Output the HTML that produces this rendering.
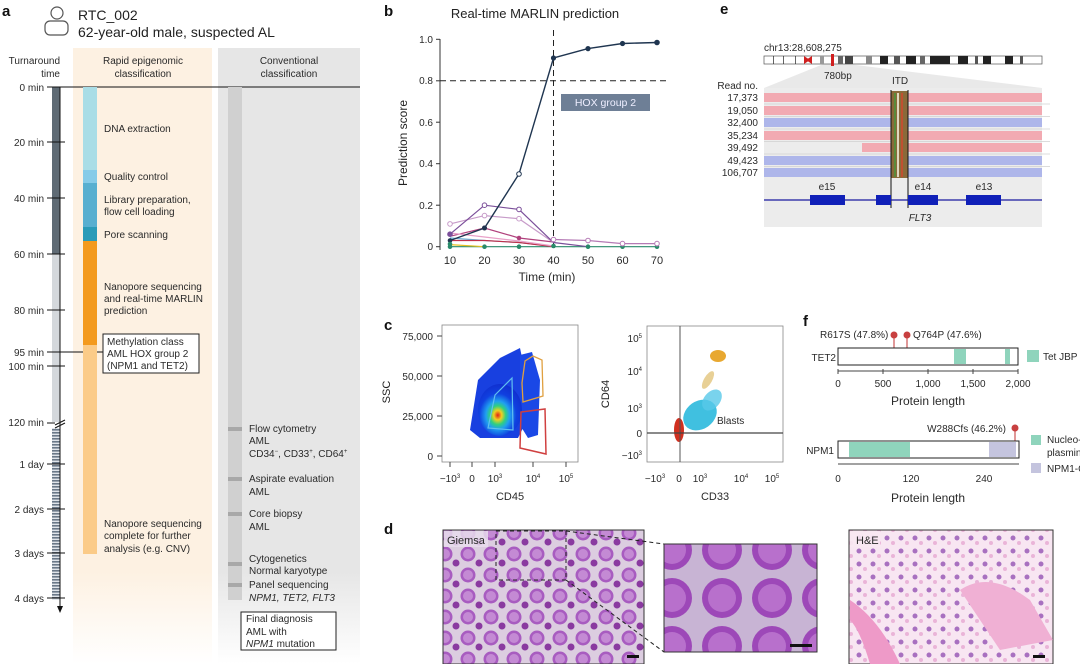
<!DOCTYPE html>
<html><head><meta charset="utf-8"><style>
html,body{margin:0;padding:0;background:#fff;}
svg{display:block;font-family:"Liberation Sans",Arial,sans-serif;}
.t{font-size:11px;fill:#2a2a2a;}
.s{font-size:10px;fill:#2a2a2a;}
.b{font-size:15px;font-weight:bold;fill:#111;}
</style></head><body>
<svg width="1080" height="664" viewBox="0 0 1080 664" xmlns="http://www.w3.org/2000/svg">
<defs>
<linearGradient id="fo" x1="0" y1="0" x2="0" y2="1"><stop offset="0.85" stop-color="#fdf1e2"/><stop offset="1" stop-color="#fff"/></linearGradient>
<linearGradient id="fg" x1="0" y1="0" x2="0" y2="1"><stop offset="0.85" stop-color="#e6e6e6"/><stop offset="1" stop-color="#fff"/></linearGradient>
<pattern id="lad" width="8" height="3" patternUnits="userSpaceOnUse"><rect width="8" height="3" fill="#e0e4ea"/><rect width="8" height="1.6" fill="#6a7888"/></pattern>
<radialGradient id="flow1" cx="0.45" cy="0.6" r="0.6"><stop offset="0" stop-color="#e0201a"/><stop offset="0.15" stop-color="#f0d020"/><stop offset="0.3" stop-color="#30d080"/><stop offset="0.45" stop-color="#20a0f0"/><stop offset="0.7" stop-color="#1040e0"/><stop offset="1" stop-color="#1030d0"/></radialGradient>
<pattern id="giem" width="23" height="21" patternUnits="userSpaceOnUse"><rect width="23" height="21" fill="#dccde0"/><circle cx="8" cy="8" r="7.5" fill="#a85cc0"/><circle cx="8" cy="8" r="5" fill="#c48ad4"/><circle cx="19" cy="17" r="3.5" fill="#8a3aa0"/></pattern>
<pattern id="giem2" width="50" height="48" patternUnits="userSpaceOnUse"><rect width="50" height="48" fill="#c8b4d4"/><circle cx="22" cy="22" r="20" fill="#9d48b8"/><circle cx="22" cy="22" r="14" fill="#b870cc"/></pattern>
<pattern id="he" width="14" height="13" patternUnits="userSpaceOnUse"><rect width="14" height="13" fill="#f8e6f2"/><circle cx="5" cy="5" r="2.5" fill="#a870c0"/><circle cx="11" cy="10" r="2" fill="#eab4d8"/></pattern>
</defs>

<!-- ===== Panel a ===== -->
<text x="2" y="16" class="b">a</text>
<circle cx="57" cy="13" r="6" fill="none" stroke="#555" stroke-width="1.2"/>
<rect x="45" y="21" width="23" height="14" rx="5" fill="none" stroke="#555" stroke-width="1.2"/>
<text x="78" y="20" style="font-size:14px;fill:#222">RTC_002</text>
<text x="78" y="37" style="font-size:14px;fill:#222">62-year-old male, suspected AL</text>

<rect x="73" y="48" width="139" height="616" fill="url(#fo)"/>
<rect x="218" y="48" width="142" height="616" fill="url(#fg)"/>
<text x="60" y="64" class="s" text-anchor="end">Turnaround</text>
<text x="60" y="77" class="s" text-anchor="end">time</text>
<text x="143" y="64" class="s" text-anchor="middle">Rapid epigenomic</text>
<text x="143" y="77" class="s" text-anchor="middle">classification</text>
<text x="289" y="64" class="s" text-anchor="middle">Conventional</text>
<text x="289" y="77" class="s" text-anchor="middle">classification</text>

<rect x="52" y="87" width="8" height="167" fill="#5f6b75"/>
<rect x="52" y="254" width="8" height="168" fill="#d4d8dc"/>
<rect x="52" y="428" width="8" height="172" fill="url(#lad)"/>
<line x1="60" y1="87" x2="60" y2="608" stroke="#111" stroke-width="1"/>
<polygon points="57,606 63,606 60,613" fill="#111"/>
<line x1="47" y1="87" x2="360" y2="87" stroke="#111" stroke-width="1"/>
<g stroke="#111" stroke-width="1">
<line x1="47" y1="142" x2="65" y2="142"/><line x1="47" y1="198" x2="65" y2="198"/>
<line x1="47" y1="254" x2="65" y2="254"/><line x1="47" y1="310" x2="65" y2="310"/>
<line x1="47" y1="352" x2="103" y2="352"/><line x1="47" y1="366" x2="65" y2="366"/>
<line x1="47" y1="423" x2="55" y2="423"/><line x1="55" y1="425" x2="65" y2="420"/><line x1="55" y1="428" x2="65" y2="423"/>
<line x1="47" y1="464" x2="65" y2="464"/><line x1="47" y1="509" x2="65" y2="509"/>
<line x1="47" y1="553" x2="65" y2="553"/><line x1="47" y1="598" x2="65" y2="598"/>
</g>
<g class="s" text-anchor="end">
<text x="44" y="91" class="s">0 min</text><text x="44" y="146" class="s">20 min</text>
<text x="44" y="202" class="s">40 min</text><text x="44" y="258" class="s">60 min</text>
<text x="44" y="314" class="s">80 min</text><text x="44" y="356" class="s">95 min</text>
<text x="44" y="370" class="s">100 min</text><text x="44" y="426" class="s">120 min</text>
<text x="44" y="468" class="s">1 day</text><text x="44" y="513" class="s">2 days</text>
<text x="44" y="557" class="s">3 days</text><text x="44" y="602" class="s">4 days</text>
</g>

<rect x="83" y="87" width="14" height="83" fill="#a9dde6"/>
<rect x="83" y="170" width="14" height="13" fill="#86cbe8"/>
<rect x="83" y="183" width="14" height="44" fill="#58afd0"/>
<rect x="83" y="227" width="14" height="14" fill="#2a9bb8"/>
<rect x="83" y="241" width="14" height="104" fill="#f39a1e"/>
<rect x="83" y="345" width="14" height="209" fill="#fbcb88"/>
<g class="s">
<text x="104" y="132" class="s">DNA extraction</text>
<text x="104" y="180" class="s">Quality control</text>
<text x="104" y="203" class="s">Library preparation,</text>
<text x="104" y="215" class="s">flow cell loading</text>
<text x="104" y="238" class="s">Pore scanning</text>
<text x="104" y="290" class="s">Nanopore sequencing</text>
<text x="104" y="302" class="s">and real-time MARLIN</text>
<text x="104" y="314" class="s">prediction</text>
<text x="104" y="527" class="s">Nanopore sequencing</text>
<text x="104" y="539" class="s">complete for further</text>
<text x="104" y="552" class="s">analysis (e.g. CNV)</text>
</g>
<rect x="103" y="334" width="96" height="39" fill="#fff" stroke="#222" stroke-width="1"/>
<text x="107" y="345" class="s">Methylation class</text>
<text x="107" y="357" class="s">AML HOX group 2</text>
<text x="107" y="369" class="s">(NPM1 and TET2)</text>

<rect x="228" y="87" width="14" height="513" fill="#d0d0d0"/>
<g fill="#a8a8a8">
<rect x="228" y="427" width="14" height="4"/><rect x="228" y="477" width="14" height="4"/>
<rect x="228" y="512" width="14" height="4"/><rect x="228" y="562" width="14" height="4"/>
<rect x="228" y="583" width="14" height="4"/>
</g>
<g class="s">
<text x="249" y="432" class="s">Flow cytometry</text>
<text x="249" y="444" class="s">AML</text>
<text x="249" y="457" class="s">CD34<tspan dy="-4" font-size="6">−</tspan><tspan dy="4">, CD33</tspan><tspan dy="-4" font-size="6">+</tspan><tspan dy="4">, CD64</tspan><tspan dy="-4" font-size="6">+</tspan></text>
<text x="249" y="482" class="s">Aspirate evaluation</text>
<text x="249" y="495" class="s">AML</text>
<text x="249" y="517" class="s">Core biopsy</text>
<text x="249" y="530" class="s">AML</text>
<text x="249" y="562" class="s">Cytogenetics</text>
<text x="249" y="574" class="s">Normal karyotype</text>
<text x="249" y="588" class="s">Panel sequencing</text>
<text x="249" y="601" class="s" font-style="italic">NPM1, TET2, FLT3</text>
</g>
<rect x="241" y="612" width="95" height="38" fill="#fff" stroke="#222"/>
<text x="246" y="622" class="s">Final diagnosis</text>
<text x="246" y="635" class="s">AML with</text>
<text x="246" y="647" class="s"><tspan font-style="italic">NPM1</tspan> mutation</text>

<!-- ===== Panel b ===== -->
<text x="384" y="16" class="b">b</text>
<text x="535" y="18" style="font-size:13px;fill:#222" text-anchor="middle">Real-time MARLIN prediction</text>
<line x1="440" y1="39" x2="440" y2="250" stroke="#333"/>
<g stroke="#333">
<line x1="436" y1="39.3" x2="440" y2="39.3"/><line x1="436" y1="80.8" x2="440" y2="80.8"/>
<line x1="436" y1="122.2" x2="440" y2="122.2"/><line x1="436" y1="163.7" x2="440" y2="163.7"/>
<line x1="436" y1="205.2" x2="440" y2="205.2"/><line x1="436" y1="246.7" x2="440" y2="246.7"/>
</g>
<g class="s" text-anchor="end">
<text x="433" y="43" class="s">1.0</text><text x="433" y="84" class="s">0.8</text>
<text x="433" y="126" class="s">0.6</text><text x="433" y="167" class="s">0.4</text>
<text x="433" y="209" class="s">0.2</text><text x="433" y="250" class="s">0</text>
</g>
<g class="t" text-anchor="middle">
<text x="450" y="264" class="t">10</text><text x="484.5" y="264" class="t">20</text>
<text x="519" y="264" class="t">30</text><text x="553.5" y="264" class="t">40</text>
<text x="588" y="264" class="t">50</text><text x="622.5" y="264" class="t">60</text>
<text x="657" y="264" class="t">70</text>
</g>
<text x="547" y="281" class="t" text-anchor="middle" style="font-size:12px">Time (min)</text>
<text transform="translate(407,143) rotate(-90)" text-anchor="middle" style="font-size:12px;fill:#222">Prediction score</text>
<line x1="553.5" y1="30" x2="553.5" y2="250" stroke="#222" stroke-dasharray="6,4"/>
<line x1="440" y1="80.8" x2="666" y2="80.8" stroke="#222" stroke-dasharray="6,4"/>
<rect x="561" y="94" width="89" height="17" fill="#6e7f96"/>
<text x="605.5" y="106" text-anchor="middle" style="font-size:10.5px;fill:#eef">HOX group 2</text>
<g fill="none" stroke-width="1.2">
<polyline points="450,246.7 484.5,246.7 519,246.7 553.5,246.7 588,246.7 622.5,246.7 657,246.7" stroke="#2a8a6a"/>
<polyline points="450,244.6 484.5,246.7" stroke="#e6c020"/>
<polyline points="450,238 484.5,240.5 519,242.5 553.5,246.7" stroke="#6ab0d8"/>
<polyline points="450,240.5 484.5,240.5 519,242.5 553.5,246.7" stroke="#c0304a"/>
<polyline points="450,236.3 484.5,228 519,238 553.5,242 " stroke="#b0407c"/>
<polyline points="450,233 484.5,237 519,241 553.5,246" stroke="#e8a0c8"/>
<polyline points="450,223.9 484.5,215.6 519,218.7 553.5,242.5" stroke="#c79bc9"/>
<polyline points="450,234.2 484.5,205.2 519,209.4 553.5,242.5 588,246.7" stroke="#7b4f9a"/>
<polyline points="553.5,239.5 588,240.5 622.5,243.6 657,243.6" stroke="#b57ab5"/>
<polyline points="450,240.5 484.5,228 519,174 553.5,58 588,48.6 622.5,43.5 657,42.5" stroke="#1f3550" stroke-width="1.4"/>
</g>
<g>
<circle cx="450" cy="246.7" r="2.3" fill="#2a8a6a"/><circle cx="484.5" cy="246.7" r="2.3" fill="#2a8a6a"/><circle cx="519" cy="246.7" r="2.3" fill="#2a8a6a"/>
<circle cx="588" cy="246.7" r="2.3" fill="#2a8a6a"/><circle cx="622.5" cy="246.7" r="2.3" fill="#2a8a6a"/><circle cx="657" cy="246.7" r="2.3" fill="#2a8a6a"/>
<circle cx="450" cy="234.2" r="2.8" fill="#7b4f9a"/><circle cx="484.5" cy="205.2" r="2.3" fill="#fff" stroke="#7b4f9a"/><circle cx="519" cy="209.4" r="2.3" fill="#fff" stroke="#7b4f9a"/>
<circle cx="450" cy="223.9" r="2.3" fill="#fff" stroke="#c79bc9"/><circle cx="484.5" cy="215.6" r="2.3" fill="#fff" stroke="#c79bc9"/><circle cx="519" cy="218.7" r="2.3" fill="#fff" stroke="#c79bc9"/>
<circle cx="484.5" cy="228" r="2.5" fill="#b0407c"/><circle cx="519" cy="238" r="2.3" fill="#b0407c"/>
<circle cx="553.5" cy="239.5" r="2.3" fill="#fff" stroke="#b57ab5"/><circle cx="588" cy="240.5" r="2.3" fill="#fff" stroke="#b57ab5"/><circle cx="622.5" cy="243.6" r="2.3" fill="#fff" stroke="#b57ab5"/><circle cx="657" cy="243.6" r="2.3" fill="#fff" stroke="#b57ab5"/>
<circle cx="450" cy="240.5" r="2.3" fill="#1f3550"/><circle cx="484.5" cy="228" r="2.5" fill="#1f3550"/><circle cx="519" cy="174" r="2.3" fill="#fff" stroke="#1f3550"/>
<circle cx="553.5" cy="58" r="2.6" fill="#1f3550"/><circle cx="588" cy="48.6" r="2.6" fill="#1f3550"/><circle cx="622.5" cy="43.5" r="2.6" fill="#1f3550"/><circle cx="657" cy="42.5" r="2.8" fill="#1f3550"/>
<circle cx="450" cy="244" r="2.3" fill="#2a8a6a"/><circle cx="553.5" cy="246" r="2.3" fill="#2a8a6a"/>
</g>

<!-- ===== Panel e ===== -->
<text x="720" y="14" class="b">e</text>
<text x="764" y="51" class="s">chr13:28,608,275</text>
<polygon points="826,63 840,63 1042,88 764,88" fill="#e9e9e9"/>
<rect x="764" y="88" width="278" height="139" fill="#ececec"/>
<rect x="764" y="56" width="278" height="8" fill="#fff" stroke="#555" stroke-width="0.7"/>
<g fill="#222">
<rect x="773" y="56" width="0.7" height="8"/><rect x="783" y="56" width="0.7" height="8"/><rect x="795" y="56" width="0.7" height="8"/>
<rect x="820" y="56" width="4" height="8" fill="#999"/><rect x="838" y="56" width="5" height="8" fill="#666"/><rect x="845" y="56" width="8" height="8" fill="#444"/>
<rect x="866" y="56" width="6" height="8" fill="#888"/><rect x="880" y="56" width="8" height="8"/><rect x="894" y="56" width="6" height="8" fill="#555"/>
<rect x="906" y="56" width="10" height="8"/><rect x="920" y="56" width="5" height="8" fill="#666"/><rect x="930" y="56" width="20" height="8"/>
<rect x="958" y="56" width="10" height="8"/><rect x="975" y="56" width="3" height="8" fill="#555"/><rect x="983" y="56" width="8" height="8"/>
<rect x="1005" y="56" width="8" height="8"/><rect x="1020" y="56" width="3" height="8" fill="#555"/>
</g>
<polygon points="804,56 810,60 804,64" fill="#d02020"/><polygon points="812,56 806,60 812,64" fill="#d02020"/>
<rect x="831" y="54" width="3" height="12" fill="#d02020"/>
<text x="824" y="79" class="s">780bp</text>
<text x="900" y="84" class="s" text-anchor="middle">ITD</text>
<text x="758" y="89" class="s" text-anchor="end">Read no.</text>
<g>
<rect x="764" y="93" width="278" height="9" fill="#f2aab2"/>
<rect x="764" y="106" width="278" height="9" fill="#f2aab2"/>
<rect x="764" y="118" width="278" height="9" fill="#aeb6ea"/>
<rect x="764" y="131" width="278" height="9" fill="#f2aab2"/>
<rect x="862" y="143" width="180" height="9" fill="#f2aab2"/>
<rect x="764" y="156" width="278" height="9" fill="#aeb6ea"/>
<rect x="764" y="168" width="278" height="9" fill="#aeb6ea"/>
</g>
<g stroke="#d0d0d0" stroke-width="0.8">
<line x1="764" y1="104" x2="1050" y2="104"/><line x1="764" y1="116.5" x2="1050" y2="116.5"/><line x1="764" y1="129" x2="1050" y2="129"/>
<line x1="764" y1="141.5" x2="1050" y2="141.5"/><line x1="764" y1="154" x2="1050" y2="154"/><line x1="764" y1="166.5" x2="1050" y2="166.5"/>
</g>
<rect x="891" y="91" width="17" height="87" fill="#8a6a3a"/>
<g fill="#5a8a3a"><rect x="894" y="93" width="2" height="84"/><rect x="901" y="93" width="2" height="84" fill="#c05030"/><rect x="897" y="93" width="2" height="84" fill="#e0d8c0"/></g>
<line x1="891" y1="90" x2="891" y2="208" stroke="#111"/>
<line x1="908" y1="90" x2="908" y2="208" stroke="#111"/>
<g class="s" text-anchor="end">
<text x="758" y="101" class="s">17,373</text><text x="758" y="114" class="s">19,050</text>
<text x="758" y="126" class="s">32,400</text><text x="758" y="139" class="s">35,234</text>
<text x="758" y="151" class="s">39,492</text><text x="758" y="164" class="s">49,423</text>
<text x="758" y="176" class="s">106,707</text>
</g>
<line x1="764" y1="200" x2="1042" y2="200" stroke="#1a1aa0" stroke-width="1.2"/>
<g fill="#1020b8">
<rect x="810" y="195" width="35" height="10"/><rect x="876" y="195" width="15" height="10"/>
<rect x="908" y="195" width="30" height="10"/><rect x="966" y="195" width="35" height="10"/>
</g>
<g class="s" text-anchor="middle">
<text x="827" y="190" class="s">e15</text><text x="923" y="190" class="s">e14</text><text x="984" y="190" class="s">e13</text>
</g>
<text x="920" y="221" class="s" text-anchor="middle" font-style="italic">FLT3</text>

<!-- ===== Panel c ===== -->
<text x="384" y="330" class="b">c</text>
<rect x="442" y="325" width="136" height="137" fill="#fff" stroke="#888" stroke-width="0.8"/>
<polygon points="470,430 478,380 500,358 520,348 525,372 527,420 518,438 480,438" fill="#1840e0"/>
<polygon points="520,355 532,352 540,380 538,435 528,438 520,425" fill="#1a48e6"/>
<ellipse cx="500" cy="410" rx="22" ry="26" fill="url(#flow1)"/>
<polygon points="488,428 495,395 512,378 513,430" fill="none" stroke="#60c0f0" stroke-width="1.2"/>
<polygon points="522,383 525,361 533,356 542,360 543,396 523,402" fill="none" stroke="#e0a040" stroke-width="1.3"/>
<polygon points="521,412 545,409 546,454 520,448" fill="none" stroke="#d04040" stroke-width="1.5"/>
<g stroke="#444"><line x1="437" y1="336" x2="442" y2="336"/><line x1="437" y1="376" x2="442" y2="376"/><line x1="437" y1="416" x2="442" y2="416"/><line x1="437" y1="456" x2="442" y2="456"/></g>
<g class="s" text-anchor="end"><text x="433" y="340" class="s">75,000</text><text x="433" y="380" class="s">50,000</text><text x="433" y="420" class="s">25,000</text><text x="433" y="460" class="s">0</text></g>
<text transform="translate(390,392) rotate(-90)" text-anchor="middle" style="font-size:11px;fill:#222">SSC</text>
<g stroke="#444"><line x1="450" y1="462" x2="450" y2="467"/><line x1="472" y1="462" x2="472" y2="467"/><line x1="495" y1="462" x2="495" y2="467"/><line x1="533" y1="462" x2="533" y2="467"/><line x1="566" y1="462" x2="566" y2="467"/></g>
<g class="s" text-anchor="middle">
<text x="450" y="482" class="s">−10<tspan dy="-4" font-size="6">3</tspan></text><text x="472" y="482" class="s">0</text>
<text x="495" y="482" class="s">10<tspan dy="-4" font-size="6">3</tspan></text><text x="533" y="482" class="s">10<tspan dy="-4" font-size="6">4</tspan></text>
<text x="566" y="482" class="s">10<tspan dy="-4" font-size="6">5</tspan></text>
</g>
<text x="510" y="500" class="t" text-anchor="middle">CD45</text>

<rect x="647" y="326" width="136" height="136" fill="#fff" stroke="#888" stroke-width="0.8"/>
<ellipse cx="700" cy="415" rx="18" ry="14" fill="#40c0e0" transform="rotate(-35 700 415)"/>
<ellipse cx="712" cy="400" rx="12" ry="8" fill="#58c8e8" opacity="0.8" transform="rotate(-50 712 400)"/>
<ellipse cx="718" cy="356" rx="8" ry="6" fill="#e8a830"/>
<ellipse cx="708" cy="380" rx="4" ry="10" fill="#d8b050" opacity="0.6" transform="rotate(30 708 380)"/>
<ellipse cx="679" cy="430" rx="5" ry="12" fill="#d03020"/>
<line x1="680" y1="326" x2="680" y2="462" stroke="#555"/>
<line x1="647" y1="433" x2="783" y2="433" stroke="#444" stroke-width="1.2"/>
<text x="717" y="424" class="s">Blasts</text>
<g class="s" text-anchor="end">
<text x="642" y="342" class="s">10<tspan dy="-4" font-size="6">5</tspan></text><text x="642" y="375" class="s">10<tspan dy="-4" font-size="6">4</tspan></text>
<text x="642" y="412" class="s">10<tspan dy="-4" font-size="6">3</tspan></text><text x="642" y="437" class="s">0</text>
<text x="642" y="459" class="s">−10<tspan dy="-4" font-size="6">3</tspan></text>
</g>
<text transform="translate(609,394) rotate(-90)" text-anchor="middle" style="font-size:11px;fill:#222">CD64</text>
<g class="s" text-anchor="middle">
<text x="655" y="482" class="s">−10<tspan dy="-4" font-size="6">3</tspan></text><text x="679" y="482" class="s">0</text>
<text x="700" y="482" class="s">10<tspan dy="-4" font-size="6">3</tspan></text><text x="741" y="482" class="s">10<tspan dy="-4" font-size="6">4</tspan></text>
<text x="772" y="482" class="s">10<tspan dy="-4" font-size="6">5</tspan></text>
</g>
<text x="715" y="500" class="t" text-anchor="middle">CD33</text>

<!-- ===== Panel f ===== -->
<text x="803" y="326" class="b">f</text>
<text x="820" y="338" class="s">R617S (47.8%)</text>
<text x="913" y="338" class="s">Q764P (47.6%)</text>
<line x1="894" y1="335" x2="894" y2="348" stroke="#c03030"/><circle cx="894" cy="335" r="3.5" fill="#c84040"/>
<line x1="907" y1="335" x2="907" y2="348" stroke="#c03030"/><circle cx="907" cy="335" r="3.5" fill="#c84040"/>
<rect x="838" y="348" width="180" height="17" fill="#fff" stroke="#222"/>
<rect x="954" y="349" width="12" height="15" fill="#8fd4bc"/><rect x="1005" y="349" width="5" height="15" fill="#8fd4bc"/>
<text x="836" y="361" class="s" text-anchor="end">TET2</text>
<rect x="1027" y="350" width="12" height="12" fill="#8fd4bc"/><text x="1043" y="360" class="s">Tet JBP</text>
<line x1="838" y1="371" x2="1018" y2="371" stroke="#444"/>
<g stroke="#444"><line x1="838" y1="369" x2="838" y2="374"/><line x1="883" y1="369" x2="883" y2="374"/><line x1="928" y1="369" x2="928" y2="374"/><line x1="973" y1="369" x2="973" y2="374"/><line x1="1018" y1="369" x2="1018" y2="374"/></g>
<g class="s" text-anchor="middle"><text x="838" y="387" class="s">0</text><text x="883" y="387" class="s">500</text><text x="928" y="387" class="s">1,000</text><text x="973" y="387" class="s">1,500</text><text x="1018" y="387" class="s">2,000</text></g>
<text x="928" y="405" class="t" text-anchor="middle" style="font-size:12px">Protein length</text>

<text x="1006" y="432" class="s" text-anchor="end">W288Cfs (46.2%)</text>
<line x1="1015" y1="428" x2="1015" y2="441" stroke="#c03030"/><circle cx="1015" cy="428" r="3.5" fill="#c84040"/>
<rect x="838" y="441" width="181" height="17" fill="#fff" stroke="#222"/>
<rect x="849" y="442" width="61" height="15" fill="#8fd4bc"/>
<rect x="989" y="442" width="27" height="15" fill="#c4c4de"/>
<text x="834" y="454" class="s" text-anchor="end">NPM1</text>
<line x1="838" y1="464" x2="1019" y2="464" stroke="#444"/>
<g class="s" text-anchor="middle"><text x="838" y="482" class="s">0</text><text x="911" y="482" class="s">120</text><text x="984" y="482" class="s">240</text></g>
<text x="928" y="502" class="t" text-anchor="middle" style="font-size:12px">Protein length</text>
<rect x="1031" y="435" width="10" height="10" fill="#8fd4bc"/>
<text x="1047" y="443" class="s">Nucleo-</text><text x="1047" y="456" class="s">plasmin</text>
<rect x="1031" y="463" width="10" height="10" fill="#c4c4de"/>
<text x="1047" y="472" class="s">NPM1-C</text>

<!-- ===== Panel d ===== -->
<text x="384" y="534" class="b">d</text>
<rect x="443" y="530" width="201" height="134" fill="url(#giem)" stroke="#333"/>
<rect x="444" y="531" width="44" height="16" fill="#e8dcec" opacity="0.85"/>
<text x="447" y="544" class="t">Giemsa</text>
<rect x="496" y="531" width="70" height="49" fill="none" stroke="#222" stroke-dasharray="4,3"/>
<line x1="566" y1="531" x2="664" y2="544" stroke="#222" stroke-dasharray="4,3"/>
<line x1="566" y1="580" x2="664" y2="652" stroke="#222" stroke-dasharray="4,3"/>
<rect x="627" y="655" width="12" height="3" fill="#111"/>
<rect x="664" y="544" width="153" height="108" fill="url(#giem2)" stroke="#333"/>
<rect x="790" y="644" width="22" height="3" fill="#111"/>
<rect x="849" y="530" width="204" height="134" fill="url(#he)" stroke="#333"/>
<path d="M850,600 Q880,620 900,664 L870,664 Q860,630 850,620Z" fill="#ee9ac8"/>
<path d="M960,590 Q990,570 1030,600 L1053,640 L1000,650 Q980,620 960,590Z" fill="#f0b0d4"/>
<rect x="850" y="531" width="30" height="16" fill="#f8e8f2" opacity="0.9"/>
<text x="856" y="544" class="t">H&amp;E</text>
<rect x="1033" y="655" width="12" height="3" fill="#111"/>
</svg>
</body></html>
